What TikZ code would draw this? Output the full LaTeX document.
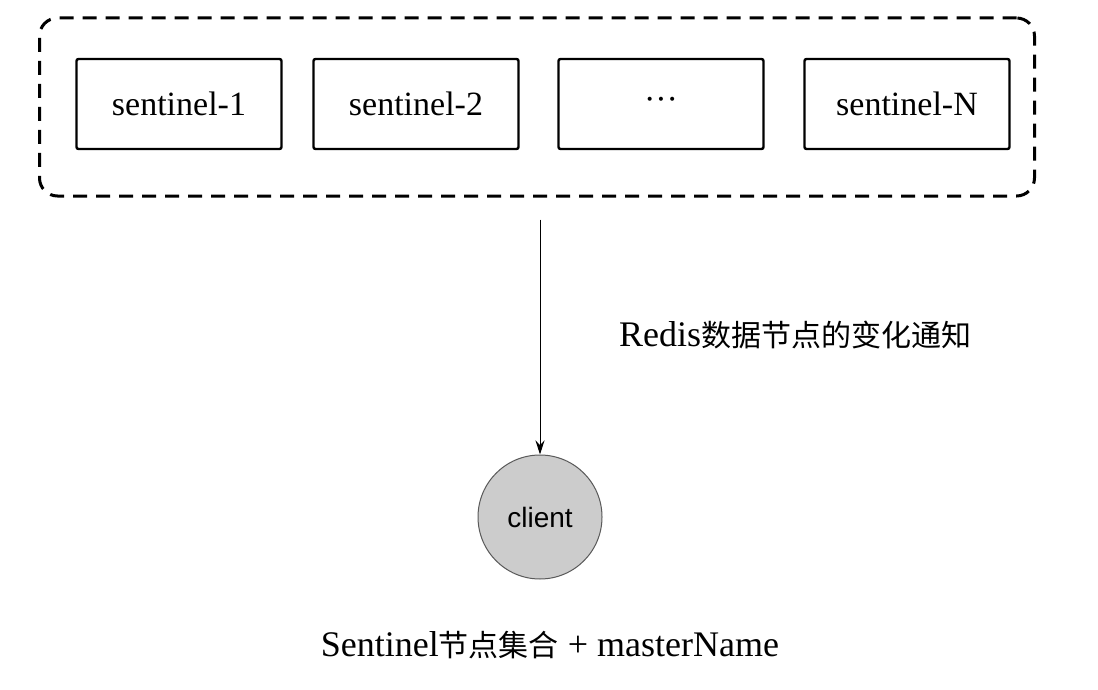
\documentclass[tikz,border=0pt]{standalone}
\usepackage{fontspec}
\setmainfont{Liberation Serif}
\newfontfamily\cjk{Noto Sans CJK SC}
\newfontfamily\mysans{Liberation Sans}
\usetikzlibrary{arrows.meta}
\begin{document}
\begin{tikzpicture}[x=1pt,y=-1pt,
  sbox/.style={draw,line width=2.4pt,minimum width=205pt,minimum height=90pt,font=\fontsize{34}{38}\selectfont,rounded corners=2pt}]
\useasboundingbox (0,0) rectangle (1098,690);
\node[draw,dashed,line width=3pt,dash pattern=on 14pt off 9pt,rounded corners=18pt,minimum width=995pt,minimum height=178pt] (group) at (537,107) {};
\node[sbox] (s1) at (179,104) {sentinel-1};
\node[sbox] (s2) at (416,104) {sentinel-2};
\node[sbox] (s3) at (661,104) {\textperiodcentered\textperiodcentered\textperiodcentered};
\node[sbox] (sN) at (907,104) {sentinel-N};
\node[circle,draw=gray!70!black,fill=gray!40,line width=1pt,minimum size=124pt,font=\mysans\fontsize{28}{32}\selectfont] (client) at (540,517) {client};
\draw[-{Stealth[length=14pt,width=9pt]},line width=1pt] (group.south -| client) ++(0,22) coordinate (st) (st) -- (client.north);
\node[font=\fontsize{36}{40}\selectfont] (lab) at (795,335) {Redis{\cjk\fontsize{30}{34}\selectfont 数据节点的变化通知}};
\node[font=\fontsize{36}{40}\selectfont] (bot) at (550,645) {Sentinel{\cjk\fontsize{30}{34}\selectfont 节点集合} + masterName};
\end{tikzpicture}
\end{document}
